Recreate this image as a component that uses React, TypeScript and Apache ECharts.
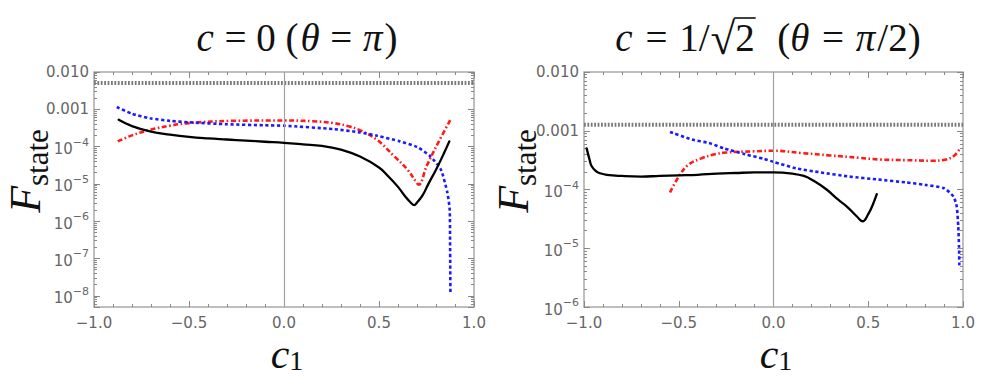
import React, { useEffect, useRef } from 'react';
import * as echarts from 'echarts';

// ---------- Left panel: c = 0 (theta = pi) ----------
const leftBlackC1 = [-0.87, -0.8, -0.7, -0.6, -0.5, -0.4, -0.3, -0.2, -0.1, 0, 0.1, 0.2, 0.3, 0.4, 0.5, 0.55, 0.6, 0.64, 0.67, 0.685, 0.7, 0.73, 0.76, 0.8, 0.84, 0.87];
const leftBlackF = [5.25e-4, 3.55e-4, 2.51e-4, 2.09e-4, 1.82e-4, 1.66e-4, 1.55e-4, 1.45e-4, 1.35e-4, 1.26e-4, 1.15e-4, 1.04e-4, 8.3e-5, 5.4e-5, 2.75e-5, 1.58e-5, 8.32e-6, 4.47e-6, 3.02e-6, 2.69e-6, 3.16e-6, 5.01e-6, 1.0e-5, 2.4e-5, 6.31e-5, 1.38e-4];

const leftBlueC1 = [-0.88, -0.8, -0.705, -0.6, -0.5, -0.3, -0.1, 0, 0.26, 0.4, 0.49, 0.61, 0.7, 0.77, 0.826, 0.86, 0.872, 0.874, 0.875, 0.876];
const leftBlueF = [1.15e-3, 7.59e-4, 5.75e-4, 4.9e-4, 4.47e-4, 3.98e-4, 3.72e-4, 3.63e-4, 2.95e-4, 2.4e-4, 1.95e-4, 1.38e-4, 9.77e-5, 5.5e-5, 2.4e-5, 5.75e-6, 2.04e-6, 3.16e-7, 5.01e-8, 1.1e-8];

const leftRedC1 = [-0.875, -0.8, -0.705, -0.6, -0.5, -0.27, 0, 0.15, 0.26, 0.34, 0.4, 0.49, 0.58, 0.65, 0.7, 0.71, 0.75, 0.81, 0.876];
const leftRedF = [1.38e-4, 2.0e-4, 2.82e-4, 3.63e-4, 4.27e-4, 4.9e-4, 5.01e-4, 4.79e-4, 4.27e-4, 3.5e-4, 2.75e-4, 1.51e-4, 5.5e-5, 2.4e-5, 1.05e-5, 9.55e-6, 2.95e-5, 1.23e-4, 5.25e-4];

const leftThreshold = 5.1e-3;
const leftYMin = 5e-9;
const leftYMax = 1e-2;

// ---------- Right panel: c = 1/sqrt2 (theta = pi/2) ----------
const rightBlackC1 = [-0.986, -0.97, -0.96, -0.94, -0.92, -0.88, -0.8, -0.7, -0.6, -0.5, -0.4, -0.3, -0.2, -0.1, 0, 0.1, 0.16, 0.21, 0.28, 0.34, 0.39, 0.44, 0.47, 0.5, 0.525, 0.545];
const rightBlackF = [5.01e-4, 3.16e-4, 2.51e-4, 2.09e-4, 1.91e-4, 1.78e-4, 1.7e-4, 1.66e-4, 1.7e-4, 1.74e-4, 1.78e-4, 1.86e-4, 1.91e-4, 1.95e-4, 1.95e-4, 1.86e-4, 1.7e-4, 1.42e-4, 1.0e-4, 6.76e-5, 5.01e-5, 3.47e-5, 2.88e-5, 3.8e-5, 5.62e-5, 8.32e-5];

const rightBlueC1 = [-0.546, -0.43, -0.34, -0.26, -0.15, -0.05, 0, 0.12, 0.25, 0.4, 0.55, 0.7, 0.8, 0.9, 0.95, 0.967, 0.975, 0.979, 0.981];
const rightBlueF = [9.55e-4, 7.08e-4, 6.17e-4, 5.01e-4, 3.98e-4, 3.31e-4, 2.95e-4, 2.29e-4, 1.95e-4, 1.66e-4, 1.48e-4, 1.32e-4, 1.2e-4, 1.05e-4, 7.59e-5, 5.13e-5, 2.34e-5, 1.07e-5, 4.57e-6];

const rightRedC1 = [-0.546, -0.5, -0.45, -0.38, -0.31, -0.25, -0.1, 0, 0.15, 0.3, 0.45, 0.56, 0.7, 0.83, 0.91, 0.955, 0.98];
const rightRedF = [8.91e-5, 1.66e-4, 2.63e-4, 3.39e-4, 3.98e-4, 4.27e-4, 4.47e-4, 4.57e-4, 4.17e-4, 3.8e-4, 3.47e-4, 3.24e-4, 3.16e-4, 3.09e-4, 3.24e-4, 3.8e-4, 4.79e-4];

const rightThreshold = 1.26e-3;
const rightYMin = 1e-6;
const rightYMax = 1e-2;

const xMin = -1;
const xMax = 1;
const xStep = 0.5;

// Title runs: [text, italic, overbar, extra gap after (layout px)]
type Run = [string, boolean, boolean, number];
const leftTitleRuns: Run[] = [
  ['c', true, false, 1], [' = 0 (', false, false, 2], ['\u03b8', true, false, 1], [' = ', false, false, 1], ['\u03c0', true, false, 2], [')', false, false, 0],
];
const rightTitleRuns: Run[] = [
  ['c', true, false, 3], [' = ', false, false, 2], ['1/', false, false, 1], ['\u221a', false, false, 0], ['2', false, true, 3], ['  (', false, false, 0], ['\u03b8', true, false, 3], [' = ', false, false, 2], ['\u03c0', true, false, 2], ['/2)', false, false, 0],
];

const LABEL_COLOR = '#666';
const FRAME_COLOR = '#aaa';
const TICK_COLOR = '#888';
const SANS = 'DejaVu Sans';
const SERIF = 'Liberation Serif';
const TITLE_SIZE = 39;

const zip = (xs: number[], ys: number[]) => xs.map((x, i) => [x, ys[i]]);

const fmtX = (v: number) => (v < 0 ? '\u2212' : '') + Math.abs(v).toFixed(1);

const fmtLog = (v: number) => {
  const l = Math.log10(v);
  const e = Math.round(l);
  if (Math.abs(l - e) > 1e-6) return '';
  if (e >= -3) return v.toFixed(3);
  return `{b|10}{s|\u2212${-e}}`;
};

const logRich = {
  b: { fontSize: 15, fontFamily: SANS, color: LABEL_COLOR, lineHeight: 20, verticalAlign: 'bottom' },
  s: { fontSize: 11, fontFamily: SANS, color: LABEL_COLOR, lineHeight: 11, verticalAlign: 'top' },
};

function xAxes(gridIndex: number) {
  const base = {
    gridIndex,
    type: 'value',
    min: xMin,
    max: xMax,
    interval: xStep,
    axisLine: { show: false, onZero: false },
    splitLine: { show: false },
    axisTick: { show: true, inside: true, length: 6, lineStyle: { color: TICK_COLOR, width: 1 } },
    minorTick: { show: true, splitNumber: 5, length: 3, lineStyle: { color: TICK_COLOR, width: 1 } },
  };
  return [
    {
      ...base,
      position: 'bottom',
      axisLabel: { show: true, formatter: fmtX, color: LABEL_COLOR, fontSize: 15, fontFamily: SANS, margin: 8 },
    },
    { ...base, position: 'top', axisLabel: { show: false } },
  ];
}

function yAxes(gridIndex: number, min: number, max: number) {
  const base = {
    gridIndex,
    type: 'log',
    logBase: 10,
    min,
    max,
    axisLine: { show: false, onZero: false },
    splitLine: { show: false },
    axisTick: { show: true, inside: true, length: 6, lineStyle: { color: TICK_COLOR, width: 1 } },
    minorTick: { show: true, splitNumber: 9, length: 3, lineStyle: { color: TICK_COLOR, width: 1 } },
  };
  return [
    {
      ...base,
      position: 'left',
      axisLabel: { show: true, formatter: fmtLog, color: LABEL_COLOR, fontSize: 15, fontFamily: SANS, margin: 5, rich: logRich },
    },
    { ...base, position: 'right', axisLabel: { show: false } },
  ];
}

function panelSeries(xi: number, yi: number, black: number[][], blue: number[][], red: number[][], thr: number) {
  return [
    {
      type: 'line',
      xAxisIndex: xi,
      yAxisIndex: yi,
      data: [[xMin, thr], [xMax, thr]],
      symbol: 'none',
      lineStyle: { color: '#7a7a7a', width: 4, type: [1.8, 1.6] },
      markLine: {
        silent: true,
        symbol: ['none', 'none'],
        label: { show: false },
        lineStyle: { color: '#a0a0a0', width: 1.2, type: 'solid' },
        data: [{ xAxis: 0 }],
      },
      z: 1,
    },
    {
      type: 'line',
      xAxisIndex: xi,
      yAxisIndex: yi,
      data: red,
      symbol: 'none',
      smooth: 0.4,
      lineStyle: { color: '#ff1a1a', width: 2.6, type: [5, 2.5, 1.6, 2.5] },
      z: 3,
    },
    {
      type: 'line',
      xAxisIndex: xi,
      yAxisIndex: yi,
      data: blue,
      symbol: 'none',
      smooth: 0.2,
      lineStyle: { color: '#1a1aff', width: 2.6, type: [3.2, 2.6] },
      z: 4,
    },
    {
      type: 'line',
      xAxisIndex: xi,
      yAxisIndex: yi,
      data: black,
      symbol: 'none',
      smooth: 0.45,
      lineStyle: { color: '#000', width: 2.3, join: 'round', cap: 'round' },
      z: 5,
    },
  ];
}

function titleElements(runs: Run[], cx: number, cy: number) {
  const ctx = document.createElement('canvas').getContext('2d') as CanvasRenderingContext2D;
  const sizeOf = (t: string) => (t === '\u221a' ? Math.round(TITLE_SIZE * 1.15) : TITLE_SIZE);
  const widths = runs.map(([t, it, , gap]) => {
    ctx.font = `${it ? 'italic ' : ''}${sizeOf(t)}px "${SERIF}"`;
    return ctx.measureText(t).width + gap;
  });
  const total = widths.reduce((a, b) => a + b, 0);
  let x = cx - total / 2;
  const els: any[] = [];
  runs.forEach(([t, it, bar, gap], i) => {
    const isRadical = t === '\u221a';
    els.push({
      type: 'text',
      x,
      y: isRadical ? cy + 2 : cy,
      style: {
        text: t,
        align: 'left',
        verticalAlign: 'middle',
        fontFamily: SERIF,
        fontStyle: it ? 'italic' : 'normal',
        fontSize: sizeOf(t),
        fill: '#111',
      },
    });
    if (bar) {
      const yb = cy - 19;
      els.push({
        type: 'line',
        shape: { x1: x - 1, y1: yb, x2: x + widths[i] - gap + 1, y2: yb },
        style: { stroke: '#111', lineWidth: 1.6 },
      });
    }
    x += widths[i];
  });
  return els;
}

function yTitle(x: number, y: number) {
  return {
    type: 'text',
    x,
    y,
    rotation: Math.PI / 2,
    style: {
      text: '{F|F}{s|state}',
      align: 'center',
      verticalAlign: 'middle',
      rich: {
        F: { fontFamily: SERIF, fontStyle: 'italic', fontSize: 44, lineHeight: 56, fill: '#111' },
        s: { fontFamily: SERIF, fontSize: 31, lineHeight: 12, verticalAlign: 'bottom', fill: '#111' },
      },
    },
  };
}

function xTitle(x: number, y: number) {
  return {
    type: 'text',
    x,
    y,
    style: {
      text: '{c|c}{s|1}',
      align: 'center',
      verticalAlign: 'middle',
      rich: {
        c: { fontFamily: SERIF, fontStyle: 'italic', fontSize: 42, lineHeight: 40, fill: '#111' },
        s: { fontFamily: SERIF, fontSize: 28, lineHeight: 20, verticalAlign: 'bottom', fill: '#111' },
      },
    },
  };
}

export default function App() {
  const ref = useRef<HTMLDivElement>(null);
  useEffect(() => {
    if (!ref.current) return;
    const chart = echarts.init(ref.current, undefined, { renderer: 'svg' });
    const option = {
      animation: false,
      backgroundColor: '#fff',
      grid: [
        { left: 94, top: 72, width: 380, height: 235, show: true, borderColor: FRAME_COLOR, borderWidth: 1.5, backgroundColor: 'transparent' },
        { left: 584, top: 72, width: 379, height: 235, show: true, borderColor: FRAME_COLOR, borderWidth: 1.5, backgroundColor: 'transparent' },
      ],
      xAxis: [...xAxes(0), ...xAxes(1)],
      yAxis: [...yAxes(0, leftYMin, leftYMax), ...yAxes(1, rightYMin, rightYMax)],
      series: [
        ...panelSeries(0, 0, zip(leftBlackC1, leftBlackF), zip(leftBlueC1, leftBlueF), zip(leftRedC1, leftRedF), leftThreshold),
        ...panelSeries(2, 2, zip(rightBlackC1, rightBlackF), zip(rightBlueC1, rightBlueF), zip(rightRedC1, rightRedF), rightThreshold),
      ],
      graphic: [
        ...titleElements(leftTitleRuns, 297, 37),
        ...titleElements(rightTitleRuns, 768, 37),
        yTitle(25, 171),
        yTitle(513, 171),
        xTitle(287, 354),
        xTitle(776, 354),
      ],
    };
    chart.setOption(option as any);
    return () => chart.dispose();
  }, []);
  return (
    <div
      ref={ref}
      style={{ position: 'fixed', left: 0, top: 0, width: 981, height: 387, background: '#fff' }}
    />
  );
}
